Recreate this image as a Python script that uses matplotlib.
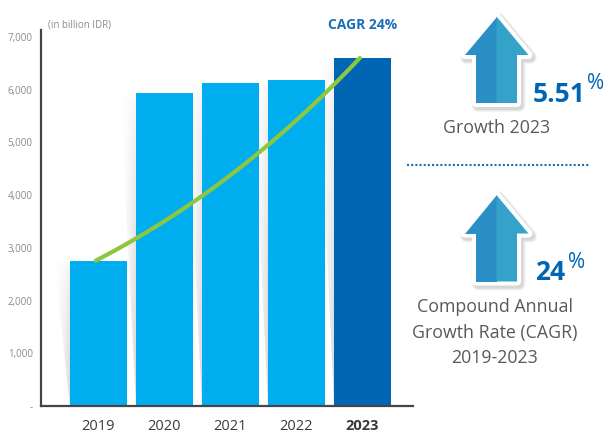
import numpy as np
import matplotlib
matplotlib.use("Agg")
import matplotlib.pyplot as plt
from matplotlib.patches import Polygon

plt.rcParams['font.family'] = ['Open Sans', 'DejaVu Sans']

# data
years = ['2019', '2020', '2021', '2022', '2023']
values = [2750, 5930, 6120, 6180, 6590]          # in billion IDR
trend = [2757, 3472, 4338, 5382, 6596]           # CAGR trend line
growth_2023 = 5.51
cagr = 24
yticks = [0, 1000, 2000, 3000, 4000, 5000, 6000, 7000]
ytick_labels = ['-', '1,000', '2,000', '3,000', '4,000', '5,000', '6,000', '7,000']

light_blue = '#00aeef'
dark_blue = '#0066b3'
text_blue = '#1a70b8'
grey_txt = '#8a8a8a'

fig = plt.figure(figsize=(6.11, 4.32), dpi=100)
ax = fig.add_axes([41/611, 1 - 406/432, (413 - 41)/611, (406 - 30)/432])

x = np.arange(len(years))
w = 0.86
ax.set_xlim(-0.87, 4.765)
ax.set_ylim(0, 7130)

# soft shadows on the left of each bar
for i, v in enumerate(values):
    xl = x[i] - w/2
    sw = 0.24
    tri = Polygon([(xl - sw, v), (xl, v), (xl, 0)], closed=True,
                  facecolor='none', edgecolor='none', transform=ax.transData)
    ax.add_patch(tri)
    gx = np.linspace(0, 1, 80)[None, :]
    gy = np.linspace(0, 1, 80)[:, None]      # 0 at top, 1 at bottom
    img = np.zeros((80, 80, 4))
    img[..., :3] = 0.70
    img[..., 3] = (gx ** 1.6) * (0.05 + 0.45 * np.sqrt(gy))
    im = ax.imshow(img, extent=[xl - sw, xl, 0, v], origin='upper',
                   aspect='auto', zorder=1, interpolation='bilinear')
    im.set_clip_path(tri)

colors = [light_blue] * (len(years) - 1) + [dark_blue]
ax.bar(x, values, width=w, color=colors, zorder=2)

# trend curve (smoothed through the read points)
c = np.polyfit(x, np.log(trend), 2)
xs = np.linspace(x[0], x[-1], 200)
ax.plot(xs - 0.04, np.exp(np.polyval(c, xs)), color='#8dc63f', lw=3,
        solid_capstyle='round', zorder=3)

ax.set_xticks(x)
ax.set_xticklabels(years, fontsize=10.5, color='#3a3a3a')
ax.get_xticklabels()[-1].set_fontweight('bold')
ax.set_yticks(yticks)
ax.set_yticklabels(ytick_labels, fontsize=7, color=grey_txt)
ax.tick_params(axis='both', length=0)
ax.tick_params(axis='x', pad=9)
ax.tick_params(axis='y', pad=6)
for s in ['top', 'right']:
    ax.spines[s].set_visible(False)
for s in ['left', 'bottom']:
    ax.spines[s].set_color('#454545')
    ax.spines[s].set_linewidth(1.6)
ax.set_facecolor('none')

# overlay in pixel coordinates for annotations and right panel
ov = fig.add_axes([0, 0, 1, 1], zorder=5)
ov.set_xlim(0, 611)
ov.set_ylim(432, 0)
ov.axis('off')
ov.patch.set_alpha(0)

ov.text(48, 25, '(in billion IDR)', fontsize=7, color=grey_txt, va='center', ha='left')
ov.text(397, 25, f'CAGR {cagr}%', fontsize=10, fontweight='bold', color=text_blue,
        va='center', ha='right')


def arrow(cx, tip):
    hb = tip + 38.5
    bot = tip + 86.5
    hw, sw = 32, 20.5
    pts = [(cx, tip), (cx + hw, hb), (cx + sw, hb), (cx + sw, bot),
           (cx - sw, bot), (cx - sw, hb), (cx - hw, hb)]
    sh = [(px + 2, py + 2.5) for px, py in pts]
    for lw, a in [(13, 0.10), (11, 0.14), (9, 0.2)]:
        ov.add_patch(Polygon(sh, closed=True, facecolor='#9a9a9a', edgecolor='#9a9a9a',
                             lw=lw * 0.72, alpha=a, joinstyle='round', zorder=1))
    ov.add_patch(Polygon(pts, closed=True, facecolor='white', edgecolor='white',
                         lw=8 * 0.72, joinstyle='round', zorder=2))
    left = [(cx, tip), (cx, bot), (cx - sw, bot), (cx - sw, hb), (cx - hw, hb)]
    right = [(cx, tip), (cx + hw, hb), (cx + sw, hb), (cx + sw, bot), (cx, bot)]
    ov.add_patch(Polygon(left, closed=True, facecolor='#2a8fc5', edgecolor='none', zorder=3))
    ov.add_patch(Polygon(right, closed=True, facecolor='#35a2ca', edgecolor='none', zorder=3))


arrow(496.5, 16.5)
arrow(496.5, 195)

ov.text(533, 102, f'{growth_2023:.2f}', fontsize=19, fontweight='bold', color=dark_blue,
        ha='left', va='baseline')
ov.text(587, 73, '%', fontsize=15, color=dark_blue, ha='left', va='top')
ov.text(497, 128, 'Growth 2023', fontsize=12.8, color='#58595b', ha='center', va='center')

ov.plot([407, 590], [165, 165], color=text_blue, lw=1.5, ls=(0, (1, 1)))

ov.text(535, 280, f'{cagr}', fontsize=19, fontweight='bold', color=dark_blue,
        ha='left', va='baseline')
ov.text(568, 252, '%', fontsize=15, color=dark_blue, ha='left', va='top')
for yy, line in zip([307, 333, 358], ['Compound Annual', 'Growth Rate (CAGR)', '2019-2023']):
    ov.text(495, yy, line, fontsize=12.8, color='#58595b', ha='center', va='center')

fig.savefig('out.png', dpi=100)
